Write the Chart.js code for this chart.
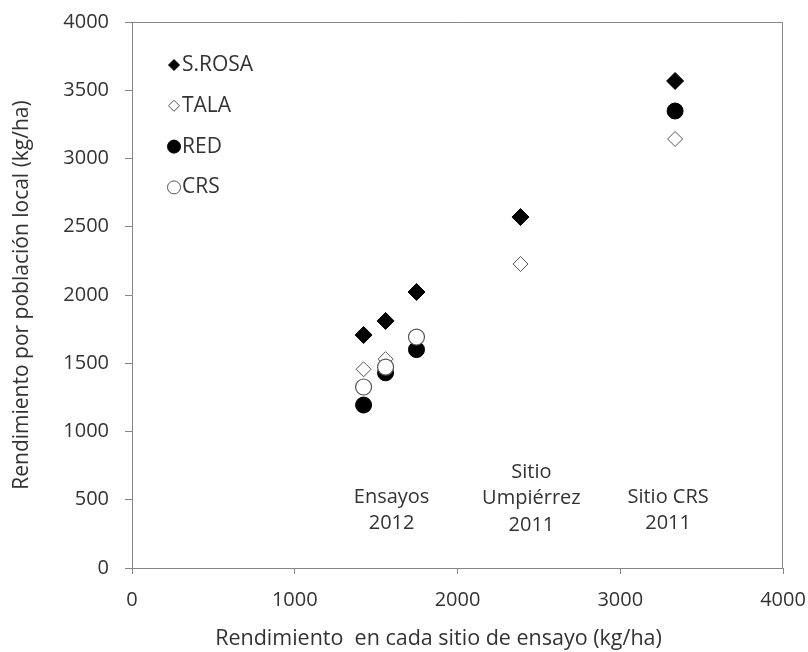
<!DOCTYPE html>
<html lang="es">
<head>
    <meta charset="utf-8">
    <title>Rendimiento</title>
    <script src="https://cdn.jsdelivr.net/npm/chart.js"></script>
    <style>
        body { margin: 0; background: #fff; }
        #wrap { width: 808px; height: 652px; }
    </style>
</head>
<body>
    <div id="wrap"><canvas id="myChart"></canvas></div>
    <script>
        // rendimiento en cada sitio (eje x)
        const sitio = [1423, 1558, 1748, 2387, 3337]
        // rendimiento por poblacion local (eje y)
        const srosa = [1707, 1810, 2022, 2571, 3568]
        const tala = [1456, 1530, 1690, 2227, 3143]
        const red = [1194, 1430, 1600, null, 3348]
        const crs = [1326, 1472, 1692, null, null]
        const xTicks = [0, 1000, 2000, 3000, 4000]
        const yTicks = [0, 500, 1000, 1500, 2000, 2500, 3000, 3500, 4000]
        // textos dentro del grafico, en unidades de los ejes
        const notas = [['Ensayos', '2012'], ['Sitio', 'Umpiérrez', '2011'], ['Sitio CRS', '2011']]
        const notasX = [1595, 2454, 3294]
        const notasY = [520, 703, 520]
        const tituloX = 'Rendimiento  en cada sitio de ensayo (kg/ha)'
        const tituloY = 'Rendimiento por población local (kg/ha)'

        const gris = '#868686'
        const texto = '#333333'
        Chart.defaults.font.family = "'Open Sans', sans-serif"

        function pts(ys) {
            const out = []
            ys.forEach((y, i) => { if (y !== null) out.push({ x: sitio[i], y: y }) })
            return out
        }

        const series = [
            { label: 'S.ROSA', data: pts(srosa), pointStyle: 'rectRot', pointRadius: 8.5, backgroundColor: '#000', borderColor: '#000', borderWidth: 1, order: 3, legR: 5.5 },
            { label: 'TALA', data: pts(tala), pointStyle: 'rectRot', pointRadius: 7.5, backgroundColor: '#fff', borderColor: '#555', borderWidth: 1, order: 2, legR: 5.5 },
            { label: 'RED', data: pts(red), pointStyle: 'circle', pointRadius: 8, backgroundColor: '#000', borderColor: '#000', borderWidth: 1, order: 1, legR: 6.5 },
            { label: 'CRS', data: pts(crs), pointStyle: 'circle', pointRadius: 8, backgroundColor: '#fff', borderColor: '#555', borderWidth: 1.2, order: 0, legR: 6.5 }
        ]

        // marco superior y derecho
        const marco = {
            id: 'marco',
            beforeDatasetsDraw(chart) {
                const a = chart.chartArea, c = chart.ctx
                c.save()
                c.strokeStyle = gris
                c.lineWidth = 1
                c.beginPath()
                c.moveTo(a.left, a.top + 0.5)
                c.lineTo(a.right - 0.5, a.top + 0.5)
                c.lineTo(a.right - 0.5, a.bottom)
                c.stroke()
                c.restore()
            }
        }

        // leyenda dentro del area
        const leyenda = {
            id: 'leyenda',
            afterDatasetsDraw(chart) {
                const a = chart.chartArea, c = chart.ctx
                c.save()
                c.font = "21px 'Open Sans'"
                c.textBaseline = 'middle'
                series.forEach((s, i) => {
                    const x = a.left + 42
                    const y = a.top + 43 + i * 40.8
                    c.fillStyle = s.backgroundColor
                    c.strokeStyle = s.borderColor
                    c.lineWidth = 1
                    c.beginPath()
                    if (s.pointStyle === 'circle') {
                        c.arc(x, y, s.legR, 0, Math.PI * 2)
                    } else {
                        c.moveTo(x, y - s.legR); c.lineTo(x + s.legR, y)
                        c.lineTo(x, y + s.legR); c.lineTo(x - s.legR, y); c.closePath()
                    }
                    c.fill(); c.stroke()
                    c.fillStyle = texto
                    c.fillText(s.label, x + 8, y)
                })
                c.restore()
            }
        }

        // notas de texto y titulo del eje x
        const rotulos = {
            id: 'rotulos',
            afterDatasetsDraw(chart) {
                const sx = chart.scales.x, sy = chart.scales.y, c = chart.ctx
                c.save()
                c.font = "20px 'Open Sans'"
                c.textAlign = 'center'
                c.textBaseline = 'middle'
                c.fillStyle = texto
                notas.forEach((lineas, i) => {
                    const x = sx.getPixelForValue(notasX[i])
                    const y0 = sy.getPixelForValue(notasY[i])
                    lineas.forEach((t, j) => c.fillText(t, x, y0 + j * 26.5))
                })
                c.font = "21.5px 'Open Sans'"
                const a = chart.chartArea
                c.fillText(tituloX, (a.left + a.right) / 2 - 19, chart.height - 13)
                c.restore()
            }
        }

        const config = {
            type: 'scatter',
            data: {
                datasets: series.map(s => ({
                    label: s.label, data: s.data, pointStyle: s.pointStyle,
                    pointRadius: s.pointRadius, pointHoverRadius: s.pointRadius,
                    backgroundColor: s.backgroundColor, borderColor: s.borderColor,
                    borderWidth: s.borderWidth, order: s.order
                }))
            },
            options: {
                responsive: true,
                maintainAspectRatio: false,
                animation: false,
                layout: { padding: { top: 22, right: 25, left: 0, bottom: 0 } },
                scales: {
                    x: {
                        type: 'linear', min: 0, max: 4000,
                        afterBuildTicks: s => { s.ticks = xTicks.map(v => ({ value: v })) },
                        afterFit: s => { s.height = 84; s.paddingLeft = 0; s.paddingRight = 0 },
                        ticks: { color: texto, font: { size: 20 }, padding: 14, maxRotation: 0, callback: v => String(v) },
                        grid: { drawOnChartArea: false, tickLength: 6, color: gris },
                        border: { color: gris }
                    },
                    y: {
                        type: 'linear', min: 0, max: 4000,
                        afterBuildTicks: s => { s.ticks = yTicks.map(v => ({ value: v })) },
                        afterFit: s => { s.width = 132; s.paddingTop = 0; s.paddingBottom = 0 },
                        ticks: { color: texto, font: { size: 20 }, padding: 16, callback: v => String(v) },
                        grid: { drawOnChartArea: false, tickLength: 7, color: gris },
                        border: { color: gris },
                        title: { display: true, text: tituloY, color: texto, font: { size: 21 }, padding: { top: 9, bottom: 0 } }
                    }
                },
                plugins: {
                    legend: { display: false },
                    tooltip: { enabled: false }
                }
            },
            plugins: [marco, leyenda, rotulos]
        }

        const ctx = document.getElementById('myChart').getContext('2d')
        const chart_object = new Chart(ctx, config)
    </script>
</body>
</html>
